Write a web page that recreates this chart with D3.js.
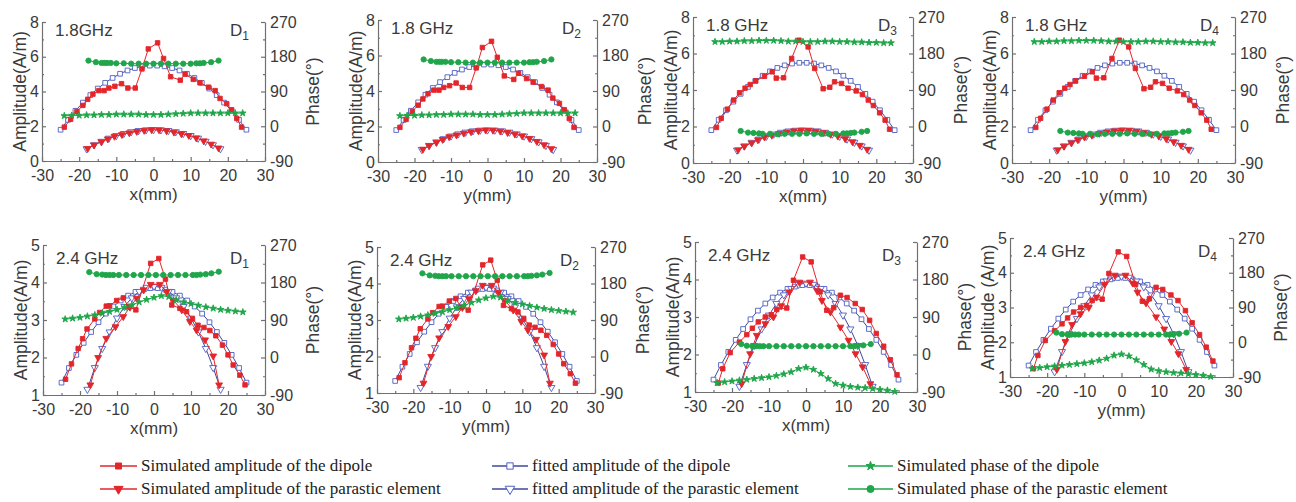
<!DOCTYPE html>
<html>
<head>
<meta charset="utf-8">
<script src="https://cdn.jsdelivr.net/npm/d3@7"></script>
<style>
  body { margin: 0; background: #fff; }
</style>
</head>
<body>
<svg></svg>
<script>
const WIDTH = 1296;
const HEIGHT = 502;

const RED = "#e3262b";
const BLUE = "#3d4a9c";
const BLUE_MK = "#4d5fc4";
const GREEN = "#1fa64a";
const AXIS = "#707070";
const TXT = "#3a3a3a";
const SANS = "'Liberation Sans', Arial, sans-serif";
const SERIF = "'Liberation Serif', 'Times New Roman', serif";

// ---------- data: 1.8 GHz ----------
// fitted amplitudes (A/m), same in every 1.8 GHz panel
const fitDip18 = [[-25,1.8],[-23,2.37],[-21,2.89],[-19,3.36],[-17,3.79],[-15,4.17],[-13,4.5],[-11,4.78],[-9,5.02],[-7,5.21],[-5,5.35],[-3,5.45],[-1,5.49],
                  [1,5.49],[3,5.45],[5,5.35],[7,5.21],[9,5.02],[11,4.78],[13,4.5],[15,4.17],[17,3.79],[19,3.36],[21,2.89],[23,2.37],[25,1.8]];
const fitPar18 = [[-18,0.7],[-16,0.93],[-14,1.13],[-12,1.31],[-10,1.46],[-8,1.58],[-6,1.68],[-4,1.75],[-2,1.79],[0,1.8],
                  [2,1.79],[4,1.75],[6,1.68],[8,1.58],[10,1.46],[12,1.31],[14,1.13],[16,0.93],[18,0.7]];
const simPar18 = [[-17.7,0.72],[-16,0.92],[-14,1.1],[-12.3,1.27],[-10.5,1.42],[-8.5,1.52],[-6.5,1.62],[-4.5,1.7],[-2.5,1.76],[-0.5,1.8],
                  [1.5,1.79],[3.5,1.74],[5.5,1.66],[7.5,1.57],[9.5,1.47],[11.5,1.33],[13.5,1.16],[15.5,0.97],[17.5,0.75]];

// D1 / D2
const simDip18a = [[-24,1.95],[-22.3,2.4],[-20.6,2.85],[-19,3.2],[-17.7,3.55],[-16.3,3.85],[-14.7,4.05],[-13.3,4.05],[-12,4.2],[-10.4,4.3],
                   [-8.6,4.45],[-6.9,4.2],[-4.9,4.2],[-3.1,5.3],[-1.4,6.45],[1.1,6.8],[2.7,5.9],[4.6,4.85],[7.2,4.65],[8.5,5.0],
                   [10.7,4.7],[12.5,4.5],[14.8,4.25],[16.6,4.05],[17.9,3.6],[19.7,3.3],[21,2.95],[22.4,2.45],[23.7,1.95]];
// phases (deg)
const phDip18a = [[-24,27],[-22,28],[-20,28],[-18,29],[-16,29],[-14,30],[-12,30],[-10,31],[-8,31],[-6,31],[-4,31],[-2,30],[0,30],
                  [2,30],[4,31],[6,32],[8,33],[10,34],[12,34],[14,34],[16,34],[18,34],[20,34],[22,34],[24,34]];
const phPar18a = [[-17.5,170],[-15.5,166],[-14,164],[-13.2,164],[-12.5,164],[-11.5,164],[-10,163],[-8,163],[-6,162],[-4,162],[-2,162],
                  [0,162],[2,162],[4,162],[6,162],[8,162],[10,162],[11.5,163],[12.5,163],[13.5,164],[15.5,166],[17.5,170]];

// D3 / D4
const simDip18b = [[-23.6,1.95],[-22.3,2.45],[-20.6,2.95],[-18.9,3.45],[-17.3,3.85],[-15.8,4.1],[-14.4,4.3],[-12.9,4.5],[-10.5,4.75],[-8.4,5.0],
                   [-7.3,4.65],[-5.3,4.67],[-3.1,5.73],[-1.1,6.73],[1.4,6.36],[3.2,5.18],[5.5,4.07],[7.3,4.15],[8.6,4.45],[10.5,4.36],
                   [12.3,4.1],[14.5,3.95],[16.2,3.75],[17.8,3.45],[19.2,3.15],[20.9,2.75],[22.4,2.35],[23.6,1.85]];
const phDip18b = [[-24,209],[-22,209],[-20,210],[-18,210],[-16,211],[-14,211],[-12,212],[-10,212],[-8,212],[-6,211],[-4,210],[-2,210],[0,209],
                  [2,209],[4,209],[6,210],[8,210],[10,209],[12,209],[14,208],[16,208],[18,207],[20,207],[22,206],[24,206]];
const phPar18b = [[-17,-11],[-15,-15],[-13.5,-16],[-12,-17],[-11,-18],[-9,-18],[-7,-19],[-5,-18],[-3,-18],[-1,-18],[1,-17],
                  [3,-18],[5,-18],[7,-18],[9,-18],[11,-17],[12,-17],[13,-16],[14,-15],[16,-13],[17.5,-11]];

// ---------- data: 2.4 GHz ----------
const fitDip24 = [[-25,1.33],[-23,1.72],[-21,2.07],[-19,2.39],[-17,2.68],[-15,2.94],[-13,3.17],[-11,3.36],[-9,3.52],[-7,3.65],[-5,3.75],[-3,3.81],[-1,3.85],
                  [1,3.85],[3,3.81],[5,3.75],[7,3.65],[9,3.52],[11,3.36],[13,3.17],[15,2.94],[17,2.68],[19,2.39],[21,2.07],[23,1.72],[25,1.33]];
const fitPar24 = [[-18,1.15],[-16,1.73],[-14,2.24],[-12,2.68],[-10,3.05],[-8,3.36],[-6,3.59],[-4,3.76],[-2,3.87],[0,3.9],
                  [2,3.87],[4,3.76],[6,3.59],[8,3.36],[10,3.05],[12,2.68],[14,2.24],[16,1.73],[18,1.15]];

// D1 / D2
const simDip24a = [[-23.9,1.42],[-22.3,1.83],[-20.5,2.24],[-19.3,2.5],[-18.1,2.76],[-16,3.03],[-14.7,3.2],[-12.9,3.37],[-12,3.38],[-10.1,3.52],
                   [-8.3,3.59],[-6.9,3.35],[-4.9,3.27],[-0.9,4.51],[1.3,4.64],[3.1,4.09],[4.8,3.4],[7,3.31],[8.8,3.22],[10.4,3.03],
                   [11.9,2.86],[13.5,2.8],[15.1,2.72],[16.7,2.58],[18.5,2.33],[20,2.07],[21.4,1.8],[23.2,1.53],[24.6,1.27]];
const simPar24a = [[-17.2,1.27],[-15.1,2.0],[-12.9,2.51],[-10.4,2.82],[-8.3,3.09],[-6.5,3.34],[-4.7,3.58],[-2.8,3.8],[-0.9,3.95],
                   [1.6,3.95],[3.4,3.75],[5.2,3.53],[7.5,3.27],[9.7,2.96],[11.5,2.73],[13.8,2.47],[16,2.04],[17.6,1.27]];
const phDip24a = [[-24,92],[-22,94],[-20,96],[-18,99],[-16,102],[-14,106],[-12,110],[-10,115],[-8,120],[-6,126],[-4,133],[-2,139],[0,144],
                  [2,148],[4,146],[6,138],[8,133],[10,129],[12,125],[14,121],[16,118],[18,115],[20,113],[22,111],[24,109]];
const phPar24a = [[-17.5,205],[-15.5,200],[-14,199],[-13,198],[-12,198],[-11,198],[-9.5,198],[-7.5,198],[-5.5,198],[-3.5,198],[-1.5,198],
                  [0.5,198],[2.5,198],[4.5,198],[6.5,198],[8.5,198],[10.5,198],[11.5,198],[12.5,199],[14,200],[15.5,202],[17.5,206]];

// D3 / D4
const simDip24b = [[-23.7,1.24],[-22.5,1.62],[-20.5,2.05],[-18,2.33],[-16,2.53],[-14.5,2.7],[-12.9,2.87],[-11,3.0],[-9.4,3.06],[-7.9,3.2],
                   [-5.2,3.24],[-3.4,3.98],[-0.9,4.6],[1.4,4.47],[3.8,3.67],[5.6,3.18],[7.5,3.25],[9.3,3.58],[11.1,3.52],[13.3,3.36],
                   [15.2,3.2],[17.2,2.91],[19,2.56],[21,2.22],[22.8,1.86],[24.6,1.46]];
const simPar24b = [[-17.4,1.22],[-15.1,2.02],[-13.3,2.51],[-11,2.82],[-8.8,3.0],[-6.7,3.3],[-4.5,3.67],[-1.8,3.93],[1.1,3.93],
                   [3,3.7],[4.3,3.44],[6.6,3.13],[9.3,2.73],[11.5,2.38],[13.4,2.02],[15.3,1.67],[17.4,1.22]];
const phDip24b = [[-24,-68],[-22,-66],[-20,-64],[-18,-62],[-16,-60],[-14,-58],[-12,-56],[-10,-54],[-8,-51],[-6,-47],[-4,-42],[-2,-34],[0,-31],
                  [2,-36],[4,-46],[6,-58],[8,-70],[10,-74],[12,-77],[14,-79],[16,-80],[18,-82],[20,-84],[22,-86],[24,-89]];
const phPar24b = [[-17.5,25],[-16,21],[-14.5,20],[-13.5,20],[-12.5,20],[-11.5,20],[-10,20],[-8,20],[-6,20],[-4,20],[-2,20],
                  [0,20],[2,20],[4,20],[6,20],[8,20],[10,20],[12,20],[13,20],[14,21],[15.5,22],[17.5,25]];

// ---------- axes ----------
const xTicks = [-30, -20, -10, 0, 10, 20, 30];
const xMinor = [-25, -15, -5, 5, 15, 25];
const phaseTicks = [-90, 0, 90, 180, 270];
const phaseMinor = [-45, 45, 135, 225];
const rows = [
  { amp: [0, 8], ampTicks: [0, 2, 4, 6, 8], ampMinor: [1, 3, 5, 7], freqDy: 14, xPad: 9, titleDy: 39 },
  { amp: [1, 5], ampTicks: [1, 2, 3, 4, 5], ampMinor: [1.5, 2.5, 3.5, 4.5], freqDy: 19, xPad: 9, titleDy: 39 }
];

// [left, right, top, bottom] of each plot box
const panels = [
  { row: 0, freq: "1.8GHz",  d: "1", xl: "x(mm)", yl: "Amplitude(A/m)", box: [42, 265, 22, 161],
    simDip: simDip18a, simPar: simPar18, fitDip: fitDip18, fitPar: fitPar18, phDip: phDip18a, phPar: phPar18a },
  { row: 0, freq: "1.8 GHz", d: "2", xl: "y(mm)", yl: "Amplitude(A/m)", box: [378, 597, 20, 162],
    simDip: simDip18a, simPar: simPar18, fitDip: fitDip18, fitPar: fitPar18, phDip: phDip18a, phPar: phPar18a },
  { row: 0, freq: "1.8 GHz", d: "3", xl: "x(mm)", yl: "Amplitude(A/m)", box: [693, 913, 17, 163],
    simDip: simDip18b, simPar: simPar18, fitDip: fitDip18, fitPar: fitPar18, phDip: phDip18b, phPar: phPar18b },
  { row: 0, freq: "1.8 GHz", d: "4", xl: "y(mm)", yl: "Amplitude(A/m)", box: [1012, 1235, 17, 163],
    simDip: simDip18b, simPar: simPar18, fitDip: fitDip18, fitPar: fitPar18, phDip: phDip18b, phPar: phPar18b },
  { row: 1, freq: "2.4 GHz", d: "1", xl: "x(mm)", yl: "Amplitude(A/m)", box: [43, 265, 245, 395],
    simDip: simDip24a, simPar: simPar24a, fitDip: fitDip24, fitPar: fitPar24, phDip: phDip24a, phPar: phPar24a },
  { row: 1, freq: "2.4 GHz", d: "2", xl: "y(mm)", yl: "Amplitude(A/m)", box: [377, 595, 247, 393],
    simDip: simDip24a, simPar: simPar24a, fitDip: fitDip24, fitPar: fitPar24, phDip: phDip24a, phPar: phPar24a },
  { row: 1, freq: "2.4 GHz", d: "3", xl: "x(mm)", yl: "Amplitude(A/m)", box: [695, 917, 242, 392],
    simDip: simDip24b, simPar: simPar24b, fitDip: fitDip24, fitPar: fitPar24, phDip: phDip24b, phPar: phPar24b },
  { row: 1, freq: "2.4 GHz", d: "4", xl: "y(mm)", yl: "Amplitude (A/m)", box: [1010, 1233, 238, 377],
    simDip: simDip24b, simPar: simPar24b, fitDip: fitDip24, fitPar: fitPar24, phDip: phDip24b, phPar: phPar24b }
];

// marker / line style of each series
const styles = {
  fitDip: { color: BLUE, mk: BLUE_MK, fill: "#fff", sym: d3.symbolSquare, size: 22, rot: 0, phase: false },
  fitPar: { color: BLUE, mk: BLUE_MK, fill: "#fff", sym: d3.symbolTriangle, size: 22, rot: 180, phase: false },
  simDip: { color: RED, mk: RED, fill: RED, sym: d3.symbolSquare, size: 20, rot: 0, phase: false },
  simPar: { color: RED, mk: RED, fill: RED, sym: d3.symbolTriangle, size: 20, rot: 180, phase: false },
  phDip:  { color: GREEN, mk: GREEN, fill: GREEN, sym: d3.symbolStar, size: 14, rot: 0, phase: true },
  phPar:  { color: GREEN, mk: GREEN, fill: GREEN, sym: d3.symbolCircle, size: 22, rot: 0, phase: true }
};
const drawOrder = ["fitDip", "fitPar", "simDip", "simPar", "phDip", "phPar"];

const legendItems = [
  { key: "simDip", label: "Simulated amplitude of the dipole", col: 0, row: 0 },
  { key: "simPar", label: "Simulated amplitude of the parastic element", col: 0, row: 1 },
  { key: "fitDip", label: "fitted amplitude of the dipole", col: 1, row: 0 },
  { key: "fitPar", label: "fitted amplitude of the parastic element", col: 1, row: 1 },
  { key: "phDip", label: "Simulated phase of the dipole", col: 2, row: 0 },
  { key: "phPar", label: "Simulated phase of the parastic element", col: 2, row: 1 }
];

let svg = d3.select("svg")
    .attr("width", WIDTH)
    .attr("height", HEIGHT)
    .style("font-family", SANS);

// ticks point into the plot, as in the original
function addAxis(g, axis, ticks, minor, transform, pad) {
    let a = g.append("g")
        .attr("transform", transform)
        .call(axis.tickValues(ticks).tickSizeInner(-4).tickSizeOuter(0).tickPadding(pad).tickFormat(d => String(d)));
    a.append("g").call(axis.tickValues(minor).tickSizeInner(-2).tickFormat(""))
        .select(".domain").remove();
    a.attr("font-family", SANS).attr("font-size", 16);
    a.selectAll("path, line").attr("stroke", AXIS).attr("stroke-width", 1.2);
    a.selectAll("text").attr("fill", TXT);
    return a;
}

function drawSeries(g, data, st, x, y) {
    let line = d3.line()
        .x(d => x(d[0]))
        .y(d => y(d[1]));
    g.append("path")
        .datum(data)
        .attr("d", line)
        .attr("fill", "none")
        .attr("stroke", st.color)
        .attr("stroke-width", 1);
    g.append("g")
        .selectAll("path")
        .data(data)
        .join("path")
        .attr("transform", d => `translate(${x(d[0])},${y(d[1])}) rotate(${st.rot})`)
        .attr("d", d3.symbol(st.sym, st.size))
        .attr("fill", st.fill)
        .attr("stroke", st.mk)
        .attr("stroke-width", 0.9);
}

function drawPanel(p) {
    const row = rows[p.row];
    const [left, right, top, bottom] = p.box;
    const x = d3.scaleLinear().domain([-30, 30]).range([left, right]);
    const yA = d3.scaleLinear().domain(row.amp).range([bottom, top]);
    const yP = d3.scaleLinear().domain([-90, 270]).range([bottom, top]);
    let g = svg.append("g");

    addAxis(g, d3.axisBottom(x), xTicks, xMinor, `translate(0,${bottom})`, row.xPad);
    addAxis(g, d3.axisLeft(yA), row.ampTicks, row.ampMinor, `translate(${left},0)`, 3);
    addAxis(g, d3.axisRight(yP), phaseTicks, phaseMinor, `translate(${right},0)`, 5);

    drawOrder.forEach(k => {
        const st = styles[k];
        drawSeries(g, p[k], st, x, st.phase ? yP : yA);
    });

    // titles
    g.append("text")
        .attr("x", (left + right) / 2)
        .attr("y", bottom + row.titleDy)
        .attr("text-anchor", "middle")
        .attr("font-size", 17)
        .attr("fill", TXT)
        .text(p.xl);
    g.append("text")
        .attr("transform", `translate(${left - 16},${(top + bottom) / 2}) rotate(-90)`)
        .attr("text-anchor", "middle")
        .attr("font-size", 17.5)
        .attr("fill", TXT)
        .text(p.yl);
    g.append("text")
        .attr("transform", `translate(${right + 54},${(top + bottom) / 2}) rotate(-90)`)
        .attr("text-anchor", "middle")
        .attr("font-size", 17.5)
        .attr("fill", TXT)
        .text("Phase(°)");

    g.append("text")
        .attr("x", left + 13)
        .attr("y", top + row.freqDy)
        .attr("font-size", 17)
        .attr("fill", TXT)
        .text(p.freq);
    let dl = g.append("text")
        .attr("x", right - 35)
        .attr("y", top + row.freqDy)
        .attr("font-size", 17)
        .attr("fill", TXT)
        .text("D");
    dl.append("tspan")
        .attr("dy", 4)
        .attr("font-size", 12)
        .text(p.d);
}

function drawLegend() {
    const colX = [100, 492, 848];
    const colLen = [37, 36, 45];
    const rowY = [466, 489];
    let lg = svg.append("g");
    legendItems.forEach(it => {
        const st = styles[it.key];
        const x0 = colX[it.col];
        const len = colLen[it.col];
        const y0 = rowY[it.row];
        lg.append("line")
            .attr("x1", x0).attr("x2", x0 + len)
            .attr("y1", y0).attr("y2", y0)
            .attr("stroke", st.color)
            .attr("stroke-width", 1.6);
        lg.append("path")
            .attr("transform", `translate(${x0 + len / 2},${y0}) rotate(${st.rot})`)
            .attr("d", d3.symbol(st.sym, st.size * 1.8))
            .attr("fill", st.fill)
            .attr("stroke", st.mk)
            .attr("stroke-width", 1);
        lg.append("text")
            .attr("x", x0 + len + 4)
            .attr("y", y0 + 5)
            .attr("font-family", SERIF)
            .attr("font-size", 17)
            .attr("fill", "#222")
            .text(it.label);
    });
}

panels.forEach(drawPanel);
drawLegend();
</script>
</body>
</html>
